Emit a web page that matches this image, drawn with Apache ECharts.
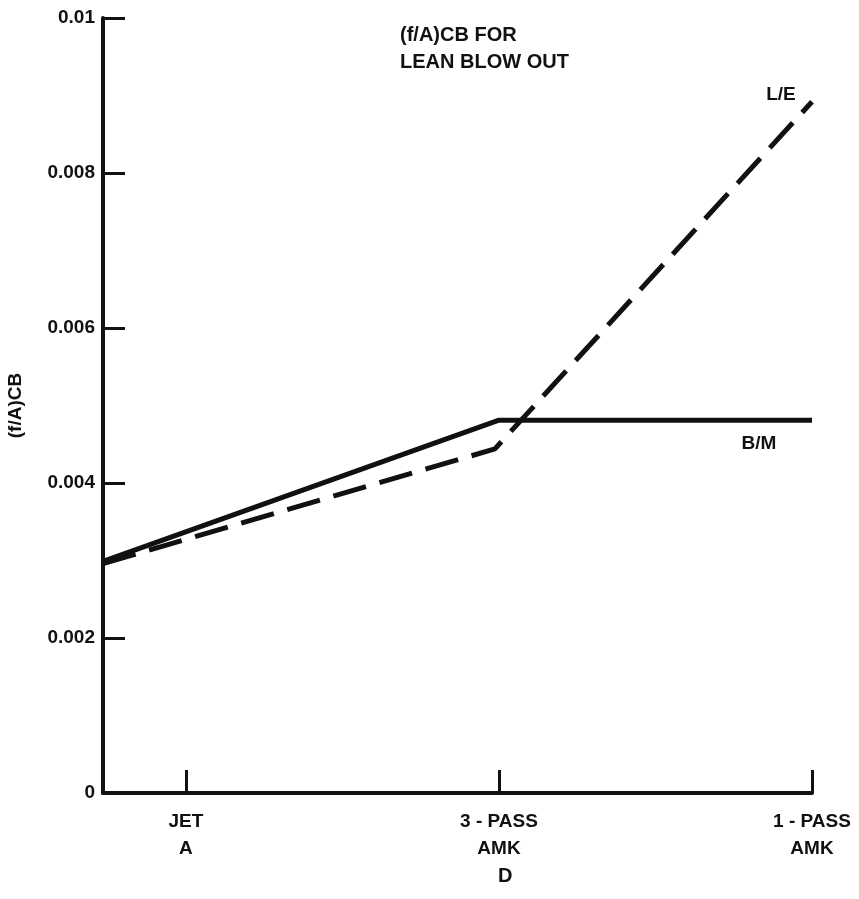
<!DOCTYPE html>
<html>
<head>
<meta charset="utf-8">
<script src="https://cdn.jsdelivr.net/npm/echarts@6/dist/echarts.min.js"></script>
<style>
  html, body { margin: 0; background: #fff; }
  #grafico { width: 859px; height: 899px; }
</style>
</head>
<body>
<div id="grafico"></div>
<script>
// fuel positions along D and their tick labels
var fuelPos = [1, 2, 3];
var fuelNames = ['JET\nA', '3 - PASS\nAMK', '1 - PASS\nAMK'];

// (f/A)CB for lean blow out
var bmX = [0.735, 2.0, 3.0];
var bmY = [0.00299, 0.00481, 0.00481];
var leX = [0.735, 1.987, 3.0];
var leY = [0.00296, 0.00444, 0.00892];
var seriesNames = ['B/M', 'L/E'];

var font = 'Liberation Sans';

function pairs(xs, ys) {
  var out = [];
  for (var i = 0; i < xs.length; i++) out.push([xs[i], ys[i]]);
  return out;
}

function lastLabel(name, offset) {
  return {
    show: true,
    position: 'inside',
    offset: offset,
    color: '#111',
    fontFamily: font,
    fontWeight: 'bold',
    fontSize: 19,
    formatter: function (p) {
      return p.dataIndex === 2 ? name : '';
    }
  };
}

var myChart = echarts.init(document.getElementById('grafico'));
var option = {
  animation: false,
  backgroundColor: '#fff',
  title: [
    {
      text: '(f/A)CB FOR\nLEAN BLOW OUT',
      left: 400,
      top: 22,
      padding: 0,
      textStyle: { fontFamily: font, fontWeight: 'bold', fontSize: 20, lineHeight: 27, color: '#111' }
    },
    {
      text: 'D',
      left: 498,
      top: 866,
      padding: 0,
      textStyle: { fontFamily: font, fontWeight: 'bold', fontSize: 20, color: '#111' }
    }
  ],
  grid: { left: 103, right: 47, top: 18, bottom: 106, outerBoundsMode: 'none' },
  xAxis: {
    type: 'value',
    min: 0.735,
    max: 3.0,
    splitLine: { show: false },
    axisLine: { lineStyle: { color: '#111', width: 4 } },
    axisTick: {
      customValues: fuelPos,
      inside: true,
      length: 23,
      lineStyle: { color: '#111', width: 3 }
    },
    axisLabel: {
      customValues: fuelPos,
      margin: 15,
      lineHeight: 27,
      color: '#111',
      fontFamily: font,
      fontWeight: 'bold',
      fontSize: 19,
      formatter: function (v) {
        return fuelNames[fuelPos.indexOf(Math.round(v))];
      }
    }
  },
  yAxis: {
    type: 'value',
    min: 0,
    max: 0.01,
    interval: 0.002,
    name: '(f/A)CB',
    nameLocation: 'middle',
    nameRotate: 90,
    nameGap: 78,
    nameTextStyle: { fontFamily: font, fontWeight: 'bold', fontSize: 19, color: '#111' },
    splitLine: { show: false },
    axisLine: { show: true, lineStyle: { color: '#111', width: 4 } },
    axisTick: { inside: true, length: 22, lineStyle: { color: '#111', width: 3 } },
    axisLabel: {
      margin: 8,
      color: '#111',
      fontFamily: font,
      fontWeight: 'bold',
      fontSize: 19,
      formatter: function (v) {
        return v === 0 ? '0' : String(+v.toFixed(3));
      }
    }
  },
  series: [
    {
      name: seriesNames[0],
      type: 'line',
      data: pairs(bmX, bmY),
      symbol: 'circle',
      symbolSize: 0,
      showSymbol: true,
      lineStyle: { color: '#111', width: 5 },
      label: lastLabel(seriesNames[0], [-53, 24])
    },
    {
      name: seriesNames[1],
      type: 'line',
      data: pairs(leX, leY),
      symbol: 'circle',
      symbolSize: 0,
      showSymbol: true,
      lineStyle: { color: '#111', width: 5, type: [34, 14], cap: 'butt' },
      label: lastLabel(seriesNames[1], [-31, -7])
    }
  ]
};

myChart.setOption(option);
</script>
</body>
</html>
